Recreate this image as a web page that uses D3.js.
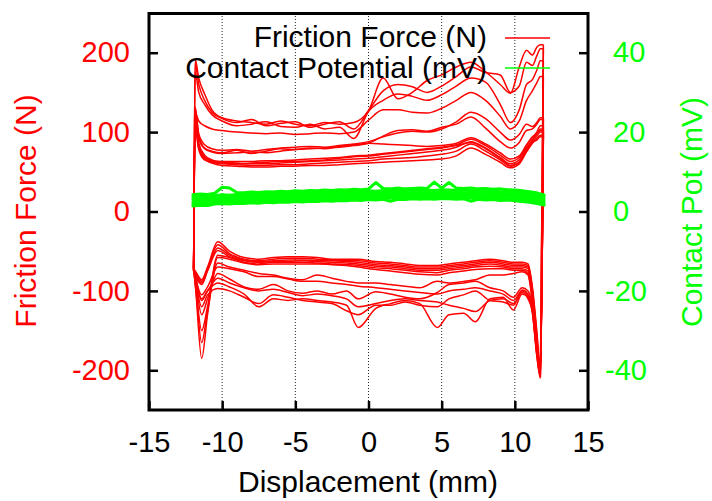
<!DOCTYPE html>
<html>
<head>
<meta charset="utf-8">
<script src="https://cdn.jsdelivr.net/npm/d3@7"></script>
<style>
  body { margin: 0; background: #fff; }
  svg text { font-family: "Liberation Sans", Arial, sans-serif; }
</style>
</head>
<body>
<div id="chart"></div>
<script>
// friction loop data (N vs mm)
var upperX = [-11.95, -11.85, -11.6, -11.2, -10.7, -10, -9, -8, -7, -6, -5, -4, -3, -2, -1, 0,
              1, 2, 3, 4, 5, 6, 7, 8, 9, 9.7, 10.3, 10.8, 11.2, 11.5, 11.75, 11.95];
var lowerX = [-11.95, -11.8, -11.4, -11.0, -10.3, -9.5, -8.5, -7.5, -6.5, -5.5, -4.5, -3.5, -2.5, -1.5, -0.7, 0.5,
              1.5, 2.5, 3.5, 4.7, 5.5, 6.5, 7.3, 8.3, 9.2, 9.9, 10.5, 10.9, 11.2, 11.5, 11.75, 11.95];

// forward strokes (positive friction)
var fwd1  = [-72, 192, 168, 148, 128, 118, 114, 112, 110, 114, 110, 108, 112, 110, 112, 127, 168, 142, 150, 165, 172, 182, 188, 176, 160, 149, 182, 203, 197, 207, 210, 210];
var fwd2  = [-74, 186, 160, 140, 125, 117, 112, 116, 108, 111, 113, 106, 110, 113, 104, 127, 152, 160, 157, 150, 158, 170, 182, 175, 172, 150, 158, 188, 184, 196, 205, 205];
var fwd3  = [-75, 176, 150, 135, 122, 114, 108, 110, 113, 107, 106, 110, 104, 106, 92, 126, 140, 148, 145, 140, 147, 158, 168, 163, 135, 112, 128, 160, 166, 178, 190, 190];
var fwd4  = [-70, 124, 114, 108, 104, 102, 100, 99, 98, 99, 97, 98, 99, 98, 100, 115, 128, 128, 125, 124, 130, 140, 150, 140, 120, 104, 114, 140, 152, 162, 170, 170];
var fwd5  = [-73, 132, 98, 84, 79, 77, 78, 76, 78, 80, 81, 82, 81, 83, 85, 88, 94, 99, 101, 100, 104, 113, 125, 117, 100, 90, 97, 110, 107, 112, 118, 118];
var fwd6  = [-75, 126, 92, 79, 75, 73, 74, 75, 74, 76, 78, 79, 80, 81, 83, 86, 95, 102, 103, 101, 106, 110, 119, 105, 88, 80, 87, 102, 104, 110, 116, 116];
var fwd7  = [-72, 110, 80, 66, 61, 58, 57, 56, 56, 57, 57, 58, 58, 59, 60, 61, 62, 63, 64, 65, 66, 70, 80, 72, 62, 55, 60, 75, 86, 92, 96, 96];
var fwd8  = [-74, 118, 84, 69, 63, 60, 59, 58, 58, 59, 59, 60, 61, 62, 63, 64, 66, 67, 68, 70, 72, 76, 85, 76, 65, 57, 62, 78, 88, 95, 100, 100];
var fwd9  = [-75, 122, 86, 71, 65, 62, 61, 60, 60, 61, 62, 63, 64, 65, 66, 67, 69, 71, 73, 75, 77, 81, 88, 80, 68, 60, 65, 80, 90, 98, 104, 104];
var fwd10 = [-76, 115, 82, 68, 64, 63, 63, 63, 64, 64, 65, 66, 67, 68, 70, 71, 73, 75, 77, 79, 81, 84, 91, 83, 71, 63, 68, 83, 93, 100, 108, 108];
var fwd11 = [-70, 105, 78, 65, 62, 61, 60, 61, 62, 63, 63, 64, 65, 67, 69, 70, 72, 74, 76, 78, 80, 83, 87, 79, 67, 58, 62, 76, 87, 90, 94, 94];
var fwd12 = [-72, 130, 95, 80, 76, 74, 77, 73, 76, 79, 78, 80, 79, 82, 84, 86, 85, 84, 83, 82, 83, 86, 93, 85, 74, 66, 70, 84, 94, 98, 102, 102];

// return strokes (negative friction)
var rev1  = [-72, -76, -86, -70, -38, -50, -58, -60, -58, -57, -57, -58, -60, -60, -60, -63, -64, -66, -68, -68, -66, -64, -62, -60, -62, -64, -64, -66, -95, -150, -200, 210];
var rev2  = [-73, -78, -88, -72, -42, -53, -60, -62, -60, -59, -59, -60, -61, -62, -62, -65, -66, -68, -70, -70, -68, -66, -64, -62, -64, -66, -66, -68, -98, -155, -205, 205];
var rev3  = [-74, -80, -90, -74, -46, -55, -61, -63, -62, -61, -61, -62, -62, -63, -64, -67, -68, -70, -72, -72, -70, -68, -66, -64, -66, -68, -68, -70, -100, -160, -208, 190];
var rev4  = [-75, -82, -92, -75, -49, -57, -62, -64, -63, -63, -62, -63, -64, -65, -66, -69, -70, -72, -74, -74, -72, -70, -68, -66, -68, -70, -70, -72, -104, -165, -204, 170];
var rev5  = [-72, -95, -150, -120, -55, -58, -64, -66, -64, -64, -64, -65, -66, -67, -68, -71, -72, -74, -76, -77, -74, -72, -70, -69, -70, -72, -72, -75, -108, -170, -198, 118];
var rev6  = [-70, -100, -185, -130, -58, -60, -65, -67, -66, -66, -66, -66, -67, -68, -70, -73, -75, -77, -79, -80, -77, -75, -73, -72, -72, -74, -74, -78, -112, -172, -195, 116];
var rev7  = [-73, -98, -165, -125, -65, -70, -74, -78, -80, -84, -86, -80, -84, -88, -90, -90, -92, -94, -96, -88, -90, -88, -86, -80, -80, -78, -76, -80, -115, -168, -190, 96];
var rev8  = [-72, -90, -130, -110, -78, -85, -95, -98, -92, -100, -103, -100, -104, -100, -110, -101, -104, -108, -110, -102, -92, -90, -88, -96, -100, -108, -96, -100, -120, -175, -200, 100];
var rev9  = [-70, -88, -120, -105, -97, -100, -108, -116, -105, -108, -112, -114, -116, -125, -130, -118, -118, -114, -118, -120, -110, -105, -100, -112, -114, -118, -99, -104, -125, -178, -205, 104];
var rev10 = [-72, -85, -110, -100, -90, -95, -104, -120, -110, -112, -110, -112, -114, -118, -146, -122, -116, -112, -116, -146, -130, -128, -139, -110, -108, -124, -104, -108, -128, -180, -208, 108];
var rev11 = [-70, -84, -105, -95, -70, -72, -76, -82, -82, -85, -88, -88, -90, -92, -94, -96, -98, -100, -102, -104, -100, -98, -96, -100, -104, -112, -100, -106, -122, -176, -202, 94];
var rev12 = [-72, -86, -112, -100, -84, -90, -96, -100, -98, -102, -106, -104, -106, -110, -120, -116, -112, -110, -112, -114, -118, -122, -126, -112, -110, -116, -102, -110, -126, -182, -210, 102];

// contact potential (mV), every 0.5 mm
var potX = [-12, -11.5, -11, -10.5, -10, -9.5, -9, -8.5, -8, -7.5, -7, -6.5, -6, -5.5, -5, -4.5, -4, -3.5, -3, -2.5, -2, -1.5, -1, -0.5, 0,
            0.5, 1, 1.5, 2, 2.5, 3, 3.5, 4, 4.5, 5, 5.5, 6, 6.5, 7, 7.5, 8, 8.5, 9, 9.5, 10, 10.5, 11, 11.5, 12];
var pot1 = [4.2, 4.4, 4.3, 4.6, 6.1, 5.9, 4.8, 4.7, 4.9, 4.8, 5.0, 4.9, 5.1, 5.0, 5.2, 5.1, 5.3, 5.2, 5.4, 5.3, 5.5, 5.4, 5.6, 5.5, 5.7,
            7.3, 5.8, 5.7, 5.9, 5.7, 5.8, 5.9, 5.8, 7.4, 5.9, 7.3, 5.9, 5.8, 5.9, 5.7, 5.8, 5.6, 5.7, 5.5, 5.4, 5.2, 5.0, 4.7, 4.2];
var pot2 = [3.6, 3.9, 3.7, 4.0, 4.2, 4.1, 4.3, 4.2, 4.4, 4.3, 4.5, 4.4, 4.6, 4.5, 4.7, 4.6, 4.8, 4.7, 4.9, 4.8, 5.0, 4.9, 5.1, 5.0, 5.2,
            5.1, 5.3, 5.2, 5.3, 5.2, 5.4, 5.3, 5.4, 5.3, 5.5, 5.4, 5.3, 5.4, 5.2, 5.3, 5.1, 5.2, 5.0, 5.1, 4.9, 4.7, 4.5, 4.2, 3.8];
var pot3 = [3.0, 3.3, 3.1, 3.4, 3.6, 3.5, 3.7, 3.6, 3.8, 3.7, 3.9, 3.8, 4.0, 3.9, 4.1, 4.0, 4.2, 4.1, 4.3, 4.2, 4.4, 4.3, 4.5, 4.4, 4.6,
            4.5, 4.7, 4.6, 4.7, 4.6, 4.8, 4.7, 4.8, 4.7, 4.9, 4.8, 4.7, 4.8, 4.6, 4.7, 4.5, 4.6, 4.4, 4.5, 4.3, 4.1, 3.9, 3.6, 3.2];
var pot4 = [2.4, 2.7, 2.5, 2.8, 3.0, 2.9, 3.1, 3.0, 3.2, 3.1, 3.3, 3.2, 3.4, 3.3, 3.5, 3.4, 3.6, 3.5, 3.7, 3.6, 3.8, 3.7, 3.9, 3.8, 4.0,
            3.9, 4.1, 4.0, 4.1, 4.0, 4.2, 4.1, 4.2, 4.1, 4.3, 4.2, 4.1, 4.2, 4.0, 4.1, 3.9, 4.0, 3.8, 3.9, 3.7, 3.5, 3.3, 3.0, 2.6];
var pot5 = [1.8, 2.2, 1.9, 2.3, 2.4, 2.3, 2.5, 2.4, 2.6, 2.5, 2.7, 2.6, 2.8, 2.7, 2.9, 2.8, 3.0, 2.9, 3.1, 3.0, 3.2, 3.1, 3.3, 3.2, 3.4,
            3.3, 3.5, 3.4, 3.5, 3.4, 3.6, 3.5, 3.6, 3.5, 3.7, 3.6, 3.5, 3.6, 3.4, 3.5, 3.3, 3.4, 3.2, 3.3, 3.1, 2.9, 2.7, 2.4, 2.0];
var pot6 = [1.4, 1.6, 1.5, 1.9, 2.0, 1.9, 2.1, 2.0, 2.2, 2.1, 2.3, 2.2, 2.4, 2.3, 2.5, 2.4, 2.6, 2.5, 2.7, 2.6, 2.8, 2.7, 2.9, 2.8, 3.0,
            2.9, 3.1, 2.6, 3.1, 3.0, 3.2, 3.1, 3.2, 3.1, 3.3, 3.2, 3.1, 3.2, 2.6, 3.1, 2.9, 3.0, 2.8, 2.9, 2.7, 2.5, 2.3, 2.0, 1.6];

var forwardSeries = [fwd1, fwd2, fwd3, fwd4, fwd5, fwd6, fwd7, fwd8, fwd9, fwd10, fwd11, fwd12];
var reverseSeries = [rev1, rev2, rev3, rev4, rev5, rev6, rev7, rev8, rev9, rev10, rev11, rev12];
var potSeries = [pot1, pot2, pot3, pot4, pot5, pot6];

// ticks
var xTicks = [-15, -10, -5, 0, 5, 10, 15];
var xTickLabels = ["-15", "-10", "-5", "0", "5", "10", "15"];
var forceTicks = [-200, -100, 0, 100, 200];
var forceTickLabels = ["-200", "-100", "0", "100", "200"];
var potTicks = [-40, -20, 0, 20, 40];
var potTickLabels = ["-40", "-20", "0", "20", "40"];
var gridX = [-10, -5, 0, 5, 10];

var legendLabels = ["Friction Force (N)", "Contact Potential (mV)"];

var red = "#ff0000";
var green = "#00ff00";

var svg = d3.select("#chart").append("svg")
    .attr("width", 712)
    .attr("height", 501);

var x = d3.scaleLinear().domain([-15, 15]).range([149, 588]);
var yL = d3.scaleLinear().domain([-250, 250]).range([410, 13]);
var yR = d3.scaleLinear().domain([-50, 50]).range([410, 13]);

// dotted vertical grid
svg.append("g").selectAll("line")
    .data(gridX)
    .enter()
    .append("line")
    .attr("x1", d => x(d))
    .attr("x2", d => x(d))
    .attr("y1", 13)
    .attr("y2", 410)
    .attr("stroke", "#222")
    .attr("stroke-width", 1)
    .attr("stroke-dasharray", "1,2");

// red friction curves
var line = d3.line().curve(d3.curveMonotoneX);

svg.append("g").selectAll("path.fwd")
    .data(forwardSeries)
    .enter()
    .append("path")
    .attr("class", "fwd")
    .attr("d", s => line(s.map((v, i) => [x(upperX[i]), yL(v)])))
    .attr("fill", "none")
    .attr("stroke", red)
    .attr("stroke-width", 1.5);

svg.append("g").selectAll("path.rev")
    .data(reverseSeries)
    .enter()
    .append("path")
    .attr("class", "rev")
    .attr("d", s => line(s.map((v, i) => [x(lowerX[i]), yL(v)])))
    .attr("fill", "none")
    .attr("stroke", red)
    .attr("stroke-width", 1.5);

// green contact potential
var potLine = d3.line();
svg.append("g").selectAll("path")
    .data(potSeries)
    .enter()
    .append("path")
    .attr("d", s => potLine(s.map((v, i) => [x(potX[i]), yR(v)])))
    .attr("fill", "none")
    .attr("stroke", green)
    .attr("stroke-width", 3)
    .attr("stroke-linejoin", "round")
    .attr("stroke-linecap", "round");

// frame
svg.append("rect")
    .attr("x", 149)
    .attr("y", 13.5)
    .attr("width", 439)
    .attr("height", 396.5)
    .attr("fill", "none")
    .attr("stroke", "#000")
    .attr("stroke-width", 3);

// axes (ticks point inward)
var gLeft = svg.append("g")
    .attr("transform", "translate(149,0)")
    .call(d3.axisLeft(yL).tickValues(forceTicks).tickSize(-9).tickPadding(19)
        .tickFormat((d, i) => forceTickLabels[i]));

var gRight = svg.append("g")
    .attr("transform", "translate(588,0)")
    .call(d3.axisRight(yR).tickValues(potTicks).tickSize(-9).tickPadding(17)
        .tickFormat((d, i) => potTickLabels[i]));

var gBottom = svg.append("g")
    .attr("transform", "translate(0,410)")
    .call(d3.axisBottom(x).tickValues(xTicks).tickSize(-9).tickPadding(21)
        .tickFormat((d, i) => xTickLabels[i]));

[gLeft, gRight, gBottom].forEach(g => {
    g.attr("font-family", null).attr("font-size", null);
    g.select(".domain").remove();
    g.selectAll(".tick line").attr("stroke", "#000").attr("stroke-width", 2.5);
    g.selectAll(".tick text").style("font-size", "29px");
});
gLeft.selectAll(".tick text").attr("fill", red);
gRight.selectAll(".tick text").attr("fill", green)
    .attr("dx", d => d >= 0 ? 8 : 0);
gBottom.selectAll(".tick text").attr("fill", "#000");

// axis titles
svg.append("text")
    .attr("transform", "translate(36,211) rotate(-90)")
    .attr("text-anchor", "middle")
    .attr("fill", red)
    .style("font-size", "30px")
    .text("Friction Force (N)");

svg.append("text")
    .attr("transform", "translate(702,212) rotate(-90)")
    .attr("text-anchor", "middle")
    .attr("fill", green)
    .style("font-size", "30px")
    .text("Contact Pot (mV)");

svg.append("text")
    .attr("x", 368)
    .attr("y", 492)
    .attr("text-anchor", "middle")
    .attr("fill", "#000")
    .style("font-size", "30px")
    .text("Displacement (mm)");

// legend
var legendColors = [red, green];
var legend = svg.append("g").selectAll("g")
    .data(legendLabels)
    .enter()
    .append("g");

legend.append("text")
    .attr("x", 487)
    .attr("y", (d, i) => 47 + i * 31)
    .attr("text-anchor", "end")
    .attr("fill", "#000")
    .style("font-size", "30px")
    .text(d => d);

legend.append("line")
    .attr("x1", 505)
    .attr("x2", 550)
    .attr("y1", (d, i) => 38 + i * 30)
    .attr("y2", (d, i) => 38 + i * 30)
    .attr("stroke", (d, i) => legendColors[i])
    .attr("stroke-width", 1.5);
</script>
</body>
</html>
